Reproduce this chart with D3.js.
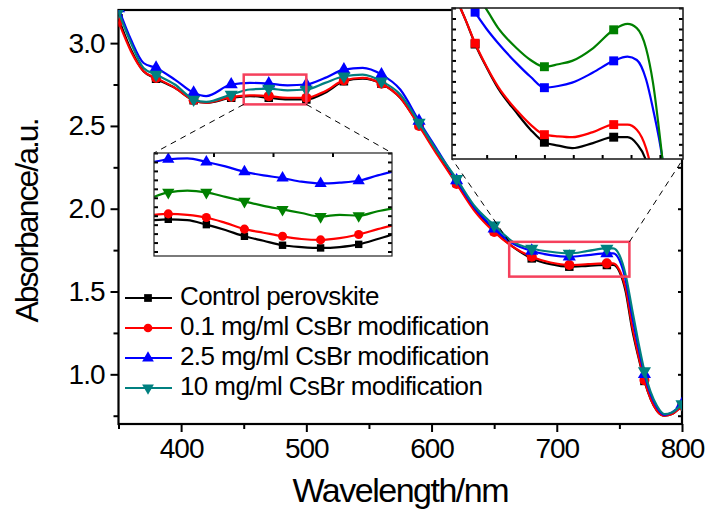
<!DOCTYPE html>
<html>
<head>
<meta charset="utf-8">
<script src="https://cdn.jsdelivr.net/npm/d3@7"></script>
<style>
  body { margin: 0; background: #fff; }
  text { font-family: "Liberation Sans", Arial, sans-serif; fill: #000; }
  .tick line { stroke: #000; stroke-width: 2; }
</style>
</head>
<body>
<div id="chart"></div>
<script>
// main spectrum
const wavelength = [350, 360, 370, 380, 395, 410, 420, 440, 455, 470, 485, 500, 515, 530, 545, 560, 575, 590, 605, 620,
  635, 650, 665, 680, 695, 710, 725, 740, 745, 750, 755, 760, 765, 770, 780, 786, 792, 800];
const controlAbs = [3.15, 2.96, 2.83, 2.785, 2.73, 2.655, 2.64, 2.67, 2.68, 2.67, 2.66, 2.66, 2.70, 2.77, 2.785, 2.755, 2.67, 2.505, 2.33, 2.155,
  1.99, 1.865, 1.77, 1.70, 1.665, 1.65, 1.655, 1.66, 1.66, 1.62, 1.50, 1.28, 1.11, 0.96, 0.78, 0.75, 0.76, 0.81];
const cs01Abs = [3.13, 2.95, 2.83, 2.79, 2.73, 2.655, 2.64, 2.675, 2.685, 2.68, 2.67, 2.67, 2.71, 2.775, 2.79, 2.755, 2.67, 2.50, 2.32, 2.15,
  1.98, 1.86, 1.77, 1.71, 1.675, 1.66, 1.665, 1.67, 1.67, 1.63, 1.52, 1.30, 1.12, 0.965, 0.78, 0.75, 0.76, 0.81];
const cs25Abs = [3.21, 3.02, 2.88, 2.85, 2.78, 2.70, 2.68, 2.75, 2.76, 2.755, 2.745, 2.75, 2.79, 2.84, 2.85, 2.81, 2.72, 2.53, 2.35, 2.17,
  2.00, 1.88, 1.79, 1.745, 1.72, 1.71, 1.72, 1.73, 1.73, 1.69, 1.57, 1.36, 1.17, 1.00, 0.80, 0.755, 0.77, 0.82];
const cs10Abs = [3.19, 3.00, 2.85, 2.81, 2.75, 2.66, 2.645, 2.69, 2.72, 2.725, 2.715, 2.72, 2.76, 2.80, 2.81, 2.77, 2.69, 2.52, 2.34, 2.18,
  2.01, 1.90, 1.80, 1.76, 1.74, 1.73, 1.745, 1.76, 1.76, 1.72, 1.60, 1.40, 1.20, 1.02, 0.81, 0.76, 0.77, 0.82];
const seriesNames = ["Control perovskite", "0.1 mg/ml CsBr modification", "2.5 mg/ml CsBr modification", "10 mg/ml CsBr modification"];

// zoomed window A (around 450-500 nm)
const zoomAWavelength = [450, 453, 457, 461, 465, 469, 473, 477, 481, 485, 489, 493, 497, 500];
const zoomAMarks = [453, 461, 469, 477, 485, 493];
const zoomAControl = [2.695, 2.696, 2.695, 2.690, 2.684, 2.677, 2.672, 2.667, 2.665, 2.664, 2.665, 2.668, 2.674, 2.679];
const zoomACs01 = [2.701, 2.702, 2.701, 2.698, 2.692, 2.685, 2.681, 2.677, 2.674, 2.673, 2.675, 2.679, 2.685, 2.689];
const zoomACs25 = [2.760, 2.763, 2.764, 2.760, 2.755, 2.749, 2.745, 2.742, 2.738, 2.736, 2.737, 2.739, 2.745, 2.749];
const zoomACs10 = [2.721, 2.726, 2.728, 2.726, 2.721, 2.716, 2.711, 2.707, 2.703, 2.699, 2.701, 2.700, 2.705, 2.708];

// zoomed window B (around 670-770 nm)
const zoomBWavelength = [672, 676, 680, 685, 690, 698, 704, 710, 716, 722, 731, 740, 746, 750, 754, 757, 761, 765];
const zoomBMarks = [680, 710, 740];
const zoomBControl = [1.81, 1.785, 1.757, 1.729, 1.704, 1.675, 1.655, 1.640, 1.636, 1.633, 1.639, 1.646, 1.646, 1.638, 1.618, 1.58, 1.52, 1.44];
const zoomBCs01 = [1.81, 1.785, 1.758, 1.73, 1.706, 1.678, 1.661, 1.649, 1.647, 1.646, 1.652, 1.661, 1.661, 1.655, 1.633, 1.60, 1.54, 1.45];
const zoomBCs25 = [1.84, 1.815, 1.795, 1.775, 1.758, 1.734, 1.718, 1.705, 1.707, 1.711, 1.723, 1.737, 1.742, 1.738, 1.715, 1.68, 1.622, 1.53];
const zoomBCs10 = [1.87, 1.84, 1.818, 1.798, 1.776, 1.752, 1.738, 1.730, 1.733, 1.737, 1.752, 1.774, 1.781, 1.776, 1.752, 1.711, 1.622, 1.52];

const xTicks = [400, 500, 600, 700, 800],
    xMinor = [350, 450, 550, 650, 750],
    yTicks = [1.0, 1.5, 2.0, 2.5, 3.0],
    yMinor = [0.75, 1.25, 1.75, 2.25, 2.75];

const width = 705, height = 514,
    margin = ({ top: 10, right: 23, bottom: 90, left: 118.5 });

const svg = d3.select("#chart")
  .append("svg")
  .attr("width", width)
  .attr("height", height);

const x = d3.scaleLinear()
  .domain([350, 800])
  .range([margin.left, width - margin.right]);
const y = d3.scaleLinear()
  .domain([0.7, 3.2])
  .range([height - margin.bottom, margin.top]);

const series = [
  { name: seriesNames[0], vals: controlAbs, color: "#000000", sym: d3.symbolSquare, size: 72, flip: false },
  { name: seriesNames[1], vals: cs01Abs, color: "#ff0000", sym: d3.symbolCircle, size: 80, flip: false },
  { name: seriesNames[2], vals: cs25Abs, color: "#0000ff", sym: d3.symbolTriangle, size: 75, flip: false },
  { name: seriesNames[3], vals: cs10Abs, color: "#008080", sym: d3.symbolTriangle, size: 75, flip: true }
];

const defs = svg.append("defs");
defs.append("clipPath").attr("id", "clipMain")
  .append("rect")
  .attr("x", x(350)).attr("y", y(3.2))
  .attr("width", x(800) - x(350)).attr("height", y(0.7) - y(3.2));

// axes
const noLabel = () => "";
svg.append("g")
  .attr("transform", `translate(0,${y(0.7)})`)
  .call(d3.axisBottom(x).tickValues(xMinor).tickSize(5).tickFormat(noLabel))
  .call(g => g.select(".domain").remove());
svg.append("g")
  .attr("transform", `translate(0,${y(0.7)})`)
  .call(d3.axisBottom(x).tickValues(xTicks).tickSize(8).tickPadding(6).tickFormat(d3.format("d")))
  .call(g => g.select(".domain").remove())
  .call(g => g.selectAll("text").attr("font-size", 28).attr("letter-spacing", "-1px"));

svg.append("g")
  .attr("transform", `translate(${x(350)},0)`)
  .call(d3.axisLeft(y).tickValues(yMinor).tickSize(5).tickFormat(noLabel))
  .call(g => g.select(".domain").remove());
svg.append("g")
  .attr("transform", `translate(${x(350)},0)`)
  .call(d3.axisLeft(y).tickValues(yTicks).tickSize(8).tickPadding(6).tickFormat(d3.format(".1f")))
  .call(g => g.select(".domain").remove())
  .call(g => g.selectAll("text").attr("font-size", 28).attr("letter-spacing", "-1px"));

// right side ticks, pointing inward
svg.append("g")
  .attr("transform", `translate(${x(800)},0)`)
  .call(d3.axisLeft(y).tickValues(yTicks.concat(yMinor)).tickSize(4).tickFormat(noLabel))
  .call(g => g.select(".domain").remove());

svg.append("rect")
  .attr("x", x(350)).attr("y", y(3.2))
  .attr("width", x(800) - x(350)).attr("height", y(0.7) - y(3.2))
  .attr("fill", "none").attr("stroke", "#000").attr("stroke-width", 2.2);

// axis titles
svg.append("text")
  .attr("x", (x(350) + x(800)) / 2)
  .attr("y", 502)
  .attr("text-anchor", "middle")
  .attr("font-size", 34)
  .attr("letter-spacing", "-1.5px")
  .text("Wavelength/nm");
svg.append("text")
  .attr("transform", "rotate(-90)")
  .attr("x", -221)
  .attr("y", 38)
  .attr("text-anchor", "middle")
  .attr("font-size", 32)
  .attr("letter-spacing", "-2px")
  .text("Absorbance/a.u.");

// draw marker helper
function marker(sel, s, size) {
  sel.attr("d", d3.symbol().type(s.sym).size(size || s.size))
    .attr("fill", s.color);
}

// main curves
const line = d3.line()
  .x(d => x(d[0]))
  .y(d => y(d[1]))
  .curve(d3.curveMonotoneX);

const plot = svg.append("g").attr("clip-path", "url(#clipMain)");
series.forEach(s => {
  const pts = wavelength.map((w, i) => [w, s.vals[i]]);
  plot.append("path")
    .datum(pts)
    .attr("d", line)
    .attr("fill", "none")
    .attr("stroke", s.color)
    .attr("stroke-width", 2.2);
  plot.selectAll(null)
    .data(pts.filter(d => (d[0] - 350) % 30 === 0))
    .join("path")
    .call(marker, s)
    .attr("transform", d => `translate(${x(d[0])},${y(d[1])})${s.flip ? " rotate(180)" : ""}`);
});

// zoom boxes and connector lines
const boxColor = "#f5405c";
const boxA = { x0: 450, x1: 500, y0: 2.63, y1: 2.81 };
const boxB = { x0: 662, x1: 758, y0: 1.59, y1: 1.80 };
[boxA, boxB].forEach(b => {
  svg.append("rect")
    .attr("x", x(b.x0)).attr("y", y(b.y1))
    .attr("width", x(b.x1) - x(b.x0)).attr("height", y(b.y0) - y(b.y1))
    .attr("fill", "none").attr("stroke", boxColor).attr("stroke-width", 2.5);
});

// inset placement
const insA = { left: 154, right: 392, top: 153, bottom: 256 };
const insB = { left: 452, right: 683, top: 8, bottom: 159 };

const connectors = [
  [x(boxA.x0), y(boxA.y0), insA.left, insA.top],
  [x(boxA.x1), y(boxA.y0), insA.right, insA.top],
  [x(boxB.x0), y(boxB.y1), insB.left, insB.bottom],
  [x(boxB.x1), y(boxB.y1), insB.right, insB.bottom]
];
svg.selectAll(null)
  .data(connectors)
  .join("line")
  .attr("x1", d => d[0]).attr("y1", d => d[1])
  .attr("x2", d => d[2]).attr("y2", d => d[3])
  .attr("stroke", "#000").attr("stroke-width", 1)
  .attr("stroke-dasharray", "6,5");

// inset drawing
function drawInset(box, xDom, yDom, wl, sets, marks, xt, yt, id, frameWidth) {
  const xs = d3.scaleLinear().domain(xDom).range([box.left, box.right]);
  const ys = d3.scaleLinear().domain(yDom).range([box.bottom, box.top]);
  defs.append("clipPath").attr("id", id)
    .append("rect")
    .attr("x", box.left).attr("y", box.top)
    .attr("width", box.right - box.left).attr("height", box.bottom - box.top);
  const g = svg.append("g");
  g.append("rect")
    .attr("x", box.left).attr("y", box.top)
    .attr("width", box.right - box.left).attr("height", box.bottom - box.top)
    .attr("fill", "#fff");
  const inner = g.append("g").attr("clip-path", `url(#${id})`);
  const ln = d3.line().x(d => xs(d[0])).y(d => ys(d[1])).curve(d3.curveMonotoneX);
  sets.forEach(s => {
    const pts = wl.map((w, i) => [w, s.vals[i]]);
    inner.append("path")
      .datum(pts)
      .attr("d", ln)
      .attr("fill", "none")
      .attr("stroke", s.color)
      .attr("stroke-width", 2.2);
    inner.selectAll(null)
      .data(pts.filter(d => marks.includes(d[0])))
      .join("path")
      .call(marker, s)
      .attr("transform", d => `translate(${xs(d[0])},${ys(d[1])})${s.flip ? " rotate(180)" : ""}`);
  });
  // inward ticks
  const tk = g.append("g");
  tk.append("g").attr("transform", `translate(${box.left},0)`)
    .call(d3.axisRight(ys).tickValues(yt).tickSize(4).tickFormat(noLabel));
  tk.append("g").attr("transform", `translate(${box.right},0)`)
    .call(d3.axisLeft(ys).tickValues(yt).tickSize(4).tickFormat(noLabel));
  tk.append("g").attr("transform", `translate(0,${xt.side === "top" ? box.top : box.bottom})`)
    .call((xt.side === "top" ? d3.axisBottom(xs) : d3.axisTop(xs)).tickValues(xt.vals).tickSize(4).tickFormat(noLabel));
  tk.selectAll(".domain").remove();
  tk.selectAll(".tick line").attr("stroke-width", 1).attr("stroke", "#333");
  g.append("rect")
    .attr("x", box.left).attr("y", box.top)
    .attr("width", box.right - box.left).attr("height", box.bottom - box.top)
    .attr("fill", "none").attr("stroke", "#222").attr("stroke-width", frameWidth);
}

drawInset(insA, [450, 500], [2.655, 2.77], zoomAWavelength, [
  { vals: zoomAControl, color: "#000000", sym: d3.symbolSquare, size: 55 },
  { vals: zoomACs01, color: "#ff0000", sym: d3.symbolCircle, size: 65 },
  { vals: zoomACs25, color: "#0000ff", sym: d3.symbolTriangle, size: 65 },
  { vals: zoomACs10, color: "#008000", sym: d3.symbolTriangle, size: 65, flip: true }
], zoomAMarks, { side: "top", vals: [462.5, 475, 487.5] }, d3.range(2.66, 2.775, 0.01), "clipA", 1.2);

drawInset(insB, [670, 770], [1.62, 1.80], zoomBWavelength, [
  { vals: zoomBControl, color: "#000000", sym: d3.symbolSquare, size: 80 },
  { vals: zoomBCs01, color: "#ff0000", sym: d3.symbolSquare, size: 80 },
  { vals: zoomBCs25, color: "#0000ff", sym: d3.symbolSquare, size: 80 },
  { vals: zoomBCs10, color: "#008000", sym: d3.symbolSquare, size: 80 }
], zoomBMarks, { side: "bottom", vals: d3.range(685, 765, 12.5) }, d3.range(1.625, 1.80, 0.0125), "clipB", 1.6);

// legend
const legend = svg.append("g");
series.forEach((s, i) => {
  const ly = 298 + 30 * i;
  legend.append("line")
    .attr("x1", 125).attr("x2", 172)
    .attr("y1", ly).attr("y2", ly)
    .attr("stroke", s.color).attr("stroke-width", 2);
  legend.append("path")
    .call(marker, s, 60)
    .attr("transform", `translate(148,${ly})${s.flip ? " rotate(180)" : ""}`);
  legend.append("text")
    .attr("x", 180)
    .attr("y", ly + 7)
    .attr("font-size", 26)
    .attr("letter-spacing", "-0.6px")
    .text(s.name);
});
</script>
</body>
</html>
